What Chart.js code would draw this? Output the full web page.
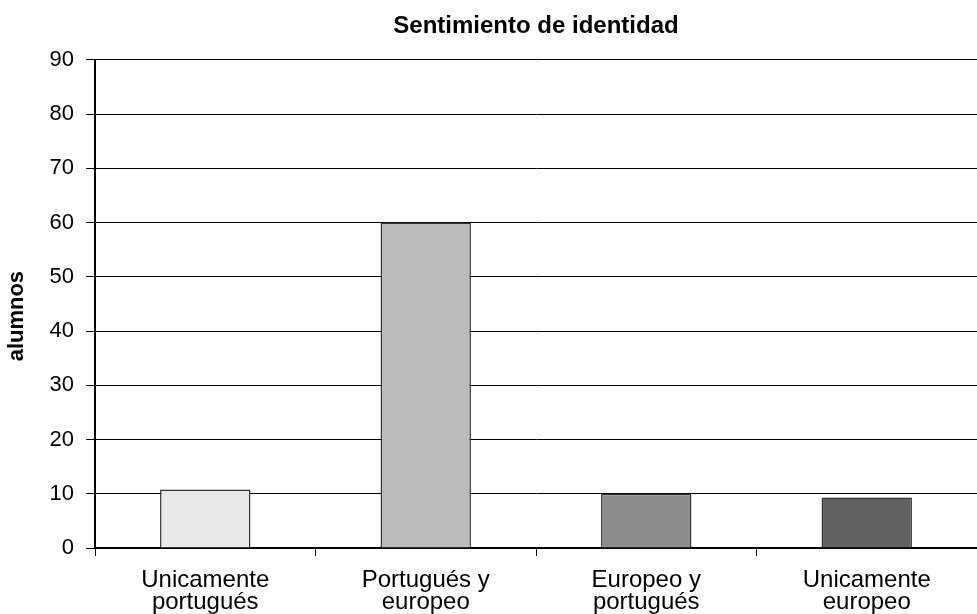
<!DOCTYPE html>
<html>
<head>
<meta charset="utf-8">
<script src="https://cdn.jsdelivr.net/npm/chart.js@4"></script>
<style>
html,body{margin:0;padding:0;background:#fff;}
#wrap{width:977px;height:614px;position:relative;}
</style>
</head>
<body>
<div id="wrap"><canvas id="c" width="977" height="614"></canvas></div>
<script>
const categories = [["Unicamente","portugués"],["Portugués y","europeo"],["Europeo y","portugués"],["Unicamente","europeo"]];
const values = [10.8, 60, 10, 9.3];
const barColors = ["#e8e8e8","#bbbbbb","#8c8c8c","#606060"];
const yTicks = [0,10,20,30,40,50,60,70,80,90];
const chartTitle = "Sentimiento de identidad";
const yTitle = "alumnos";

const FONT = "'Liberation Sans', Arial, sans-serif";

new Chart(document.getElementById('c'), {
  type: 'bar',
  data: {
    labels: categories,
    datasets: [{
      data: values,
      backgroundColor: barColors,
      borderColor: "#333",
      borderWidth: 1.5,
      barPercentage: 0.41,
      categoryPercentage: 1.0
    }]
  },
  options: {
    responsive: false,
    animation: false,
    devicePixelRatio: 1,
    layout: { padding: { left: 0, right: 0, top: 0, bottom: 0 } },
    plugins: {
      legend: { display: false },
      tooltip: { enabled: false },
      title: {
        display: true,
        fullSize: false,
        text: chartTitle,
        color: "#000",
        font: { family: FONT, size: 24, weight: 'bold', lineHeight: 1.2 },
        padding: { top: 12, bottom: 19 }
      }
    },
    scales: {
      x: {
        offset: true,
        grid: { offset: true, drawOnChartArea: false, color: "#000", tickLength: 8, lineWidth: 1 },
        border: { color: "#000", width: 2 },
        ticks: { color: "#000", font: { family: FONT, size: 24, lineHeight: 0.92 }, padding: 13, maxRotation: 0, autoSkip: false },
        afterFit: (s) => { s.height = 66; }
      },
      y: {
        min: 0, max: 90,
        afterBuildTicks: (s) => { s.ticks = yTicks.map(v => ({ value: v })); },
        grid: { color: "#000", lineWidth: 1, tickLength: 9 },
        border: { color: "#000", width: 2 },
        ticks: { color: "#000", font: { family: FONT, size: 22 }, padding: 12 },
        title: { display: true, text: yTitle + "    ", color: "#000", font: { family: FONT, size: 22, weight: 'bold' }, padding: { top: 4, bottom: 0 } },
        afterFit: (s) => { s.width = 95; }
      }
    }
  }
});
</script>
</body>
</html>
